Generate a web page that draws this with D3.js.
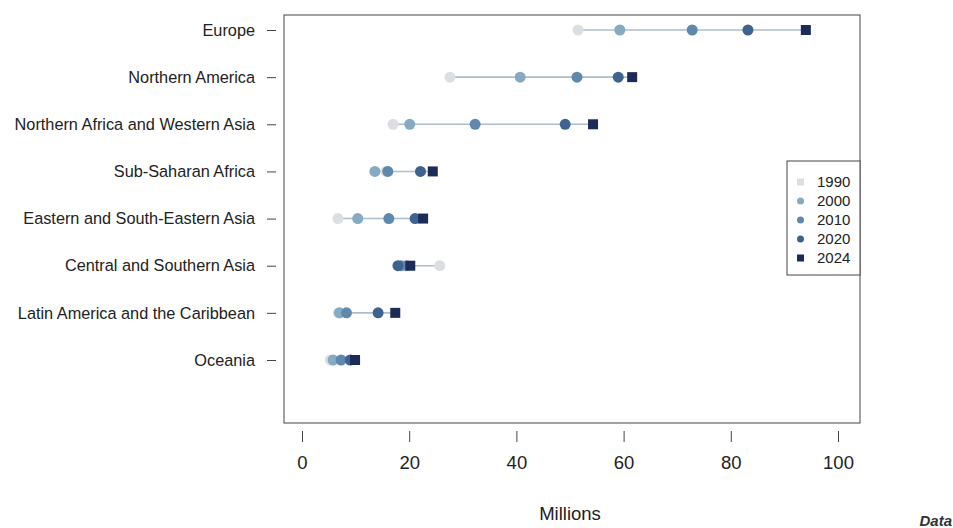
<!DOCTYPE html>
<html>
<head>
<meta charset="utf-8">
<script src="https://cdn.jsdelivr.net/npm/d3@7"></script>
<style>
  html, body { margin: 0; padding: 0; background: #ffffff; }
  svg text { font-family: "Liberation Sans", Arial, Helvetica, sans-serif; }
</style>
</head>
<body>
<svg id="chart" width="953" height="528"></svg>
<script>
// ---- data ----
const regions = [
  "Europe",
  "Northern America",
  "Northern Africa and Western Asia",
  "Sub-Saharan Africa",
  "Eastern and South-Eastern Asia",
  "Central and Southern Asia",
  "Latin America and the Caribbean",
  "Oceania"
];
const years = ["1990", "2000", "2010", "2020", "2024"];
const v1990 = [51.5, 27.6, 17.0, 15.7, 6.7, 25.7, 6.8, 5.3];
const v2000 = [59.3, 40.7, 20.1, 13.6, 10.4, 19.5, 7.0, 5.8];
const v2010 = [72.8, 51.3, 32.3, 16.0, 16.2, 18.5, 8.3, 7.3];
const v2020 = [83.2, 59.0, 49.1, 22.1, 21.1, 17.9, 14.2, 9.0];
const v2024 = [94.0, 61.6, 54.3, 24.4, 22.6, 20.2, 17.4, 9.9];
const xTicks = [0, 20, 40, 60, 80, 100];
const xTitle = "Millions";
const colors = ["#dcdee3", "#86aac2", "#5f88ad", "#3f6390", "#1c2b58"];

const series = [v1990, v2000, v2010, v2020, v2024];

// ---- layout ----
const svg = d3.select("#chart");
const frame = { left: 284, right: 860, top: 15, bottom: 423 };

const x = d3.scaleLinear().domain([0, 100]).range([302, 838]);
const y = d3.scalePoint().domain(regions).range([30, 360]);

// frame
svg.append("rect")
  .attr("x", frame.left).attr("y", frame.top)
  .attr("width", frame.right - frame.left).attr("height", frame.bottom - frame.top)
  .attr("fill", "none").attr("stroke", "#444").attr("stroke-width", 1);

// x axis (ticks separated from frame)
const xAxis = d3.axisBottom(x).tickValues(xTicks).tickSize(11).tickPadding(14).tickFormat(d3.format("d"));
const gx = svg.append("g").attr("transform", `translate(0,431)`).call(xAxis);
gx.select(".domain").remove();
gx.selectAll(".tick line").attr("stroke", "#444");
gx.selectAll(".tick text").attr("font-size", 18.5).attr("fill", "#222");

svg.append("text")
  .attr("x", (frame.left + frame.right) / 2 - 2)
  .attr("y", 520)
  .attr("text-anchor", "middle")
  .attr("font-size", 18.5)
  .attr("fill", "#222")
  .text(xTitle);

// y axis
const yAxis = d3.axisLeft(y).tickSize(9).tickPadding(12);
const gy = svg.append("g").attr("transform", `translate(276,0)`).call(yAxis);
gy.select(".domain").remove();
gy.selectAll(".tick line").attr("stroke", "#444");
gy.selectAll(".tick text").attr("font-size", 16.3).attr("fill", "#222");

// connecting lines
const rows = regions.map((r, i) => ({ region: r, vals: series.map(s => s[i]) }));
svg.append("g").selectAll("line").data(rows).join("line")
  .attr("x1", d => x(d3.min(d.vals)))
  .attr("x2", d => x(d3.max(d.vals)))
  .attr("y1", d => y(d.region))
  .attr("y2", d => y(d.region))
  .attr("stroke", "#aebdcc")
  .attr("stroke-width", 1.6);

// points
const r = 5.5;
series.forEach((s, k) => {
  const g = svg.append("g");
  const data = regions.map((reg, i) => ({ region: reg, v: s[i] }));
  if (k === 4) {
    g.selectAll("rect").data(data).join("rect")
      .attr("x", d => x(d.v) - 5)
      .attr("y", d => y(d.region) - 5)
      .attr("width", 10).attr("height", 10)
      .attr("fill", colors[k]);
  } else {
    g.selectAll("circle").data(data).join("circle")
      .attr("cx", d => x(d.v))
      .attr("cy", d => y(d.region))
      .attr("r", r)
      .attr("fill", colors[k]);
  }
});

// legend
const lg = svg.append("g").attr("transform", "translate(787,161)");
lg.append("rect").attr("x", 0).attr("y", 0).attr("width", 73).attr("height", 114)
  .attr("fill", "#fff").attr("stroke", "#444").attr("stroke-width", 1);
years.forEach((yr, k) => {
  const cy = 21 + k * 19;
  if (k === 0 || k === 4) {
    lg.append("rect").attr("x", 10).attr("y", cy - 3.5).attr("width", 7).attr("height", 7).attr("fill", colors[k]);
  } else {
    lg.append("circle").attr("cx", 13.5).attr("cy", cy).attr("r", 3.5).attr("fill", colors[k]);
  }
  lg.append("text").attr("x", 30).attr("y", cy + 5).attr("font-size", 15).attr("fill", "#222").text(yr);
});

// source label
svg.append("text")
  .attr("x", 952).attr("y", 526)
  .attr("text-anchor", "end")
  .attr("font-size", 15)
  .attr("font-style", "italic")
  .attr("font-weight", "bold")
  .attr("fill", "#333")
  .text("Data");
</script>
</body>
</html>
